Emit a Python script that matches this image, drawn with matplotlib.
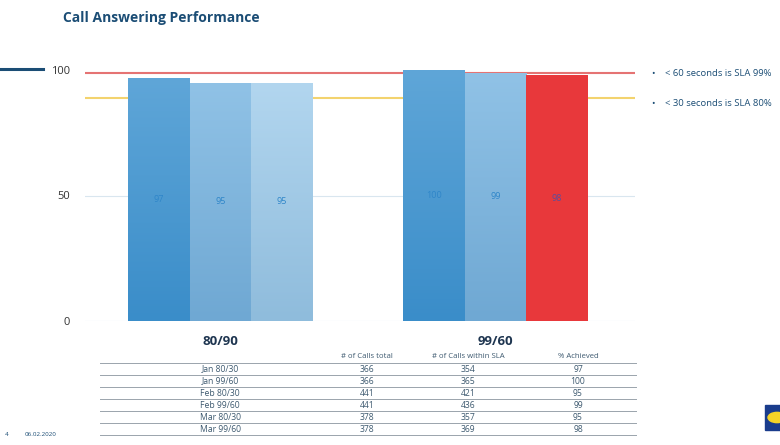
import numpy as np
import matplotlib.pyplot as plt
from matplotlib.lines import Line2D
from matplotlib.patches import Rectangle, Circle
from matplotlib.colors import LinearSegmentedColormap

plt.rcParams['font.family'] = ['Open Sans', 'DejaVu Sans']

categories = ['80/90', '99/60']
months = ['Jan', 'Feb', 'Mar']
jan = [97, 100]
feb = [95, 99]
mar = [95, 98]
sla_99 = 99
sla_80 = 89

row_labels = ['Jan 80/30', 'Jan 99/60', 'Feb 80/30', 'Feb 99/60', 'Mar 80/30', 'Mar 99/60']
calls_total = [366, 366, 441, 441, 378, 378]
calls_within = [354, 365, 421, 436, 357, 369]
pct_achieved = [97, 100, 95, 99, 95, 98]
col_headers = ['# of Calls total', '# of Calls within SLA', '% Achieved']

W, H = 780, 445
fig = plt.figure(figsize=(7.8, 4.45), dpi=100)
ax = fig.add_axes([85 / W, 1 - 321 / H, 550 / W, 251 / H])

navy = '#1B4D75'
# (top, bottom) gradient colours per series
grads = [('#5FA6D8', '#3A8DC9'), ('#90C2E6', '#6FA8D3'), ('#B2D6EF', '#8FBCDC')]
red_bar = '#E8383B'

x = np.arange(len(categories))
w = 0.224
series = [jan, feb, mar]
for i, vals in enumerate(series):
    bars = ax.bar(x + (i - 1) * w, vals, w, color='none', edgecolor='none', zorder=2)
    cmap = LinearSegmentedColormap.from_list('g%d' % i, [grads[i][1], grads[i][0]])
    for j, b in enumerate(bars):
        bx, by = b.get_x(), b.get_y()
        bw, bh = b.get_width(), b.get_height()
        is_red = months[i] == 'Mar' and categories[j] == '99/60'
        if is_red:
            b.set_facecolor(red_bar)
        else:
            grad = np.linspace(0, 1, 100).reshape(-1, 1)
            im = ax.imshow(grad, cmap=cmap, origin='lower', aspect='auto',
                           extent=[bx, bx + bw, by, by + bh], zorder=2)
            im.set_clip_path(b)
        lbl_col = '#5B4E9A' if is_red else '#2F86C9'
        ax.text(bx + bw / 2, bh / 2, str(vals[j]), ha='center', va='center',
                fontsize=6.5, color=lbl_col, zorder=3)

ax.set_xlim(-0.493, 1.507)
ax.set_ylim(0, 100)
ax.axhline(sla_99, color='#E57373', lw=1.5, zorder=1)
ax.axhline(sla_80, color='#F3D36E', lw=1.5, zorder=1)
ax.axhline(50, color='#D9E6EF', lw=0.8, zorder=0)
ax.axhline(0, color='#D9E6EF', lw=0.8, zorder=0)

for s in ax.spines.values():
    s.set_visible(False)
ax.set_yticks([0, 50, 100])
ax.set_yticklabels(['0', '50', '100'], fontsize=8, color='#333333')
ax.tick_params(axis='y', length=0, pad=11)
ax.set_xticks(x)
ax.set_xticklabels(categories, fontsize=9.5, fontweight='bold', color='#1E3550')
ax.tick_params(axis='x', length=0, pad=10)

fig.text(63 / W, 1 - 18 / H, 'Call Answering Performance', fontsize=10, fontweight='bold',
         color=navy, va='center')
fig.add_artist(Line2D([0, 43 / W], [1 - 69 / H] * 2, color=navy, lw=2.2))

fig.text(651 / W, 1 - 73 / H, '•', fontsize=6.8, color=navy, va='center')
fig.text(665 / W, 1 - 73 / H, '< 60 seconds is SLA 99%', fontsize=6.8, color=navy, va='center')
fig.text(651 / W, 1 - 104 / H, '•', fontsize=6.8, color=navy, va='center')
fig.text(665 / W, 1 - 104 / H, '< 30 seconds is SLA 80%', fontsize=6.8, color=navy, va='center')

# table under the chart
tcol = '#3E5A70'
col_x = [367, 468, 578]
for cx, hd in zip(col_x, col_headers):
    fig.text(cx / W, 1 - 357 / H, hd, fontsize=5.6, color=tcol, ha='center', va='center')
for k in range(len(row_labels) + 1):
    yl = 1 - (363 + k * 12) / H
    fig.add_artist(Line2D([100 / W, 636 / W], [yl, yl], color='#9AA4AC', lw=0.7))
for k, lab in enumerate(row_labels):
    yt = 1 - (369 + k * 12) / H
    fig.text(220 / W, yt, lab, fontsize=6.2, color=tcol, ha='center', va='center')
    for cx, v in zip(col_x, [calls_total[k], calls_within[k], pct_achieved[k]]):
        fig.text(cx / W, yt, str(v), fontsize=6.2, color=tcol, ha='center', va='center')

fig.text(5 / W, 1 - 435 / H, '4', fontsize=4.5, color=navy, va='center')
fig.text(25 / W, 1 - 435 / H, '06.02.2020', fontsize=4.5, color=navy, va='center')

# logo corner
fig.add_artist(Rectangle((765 / W, 1 - 430 / H), 20 / W, 25 / H, color='#1A3C8C', transform=fig.transFigure))
fig.add_artist(Circle((777 / W, 1 - 417.5 / H), 9 / W, color='#F5D327', transform=fig.transFigure))

fig.savefig('out.png', dpi=100)
